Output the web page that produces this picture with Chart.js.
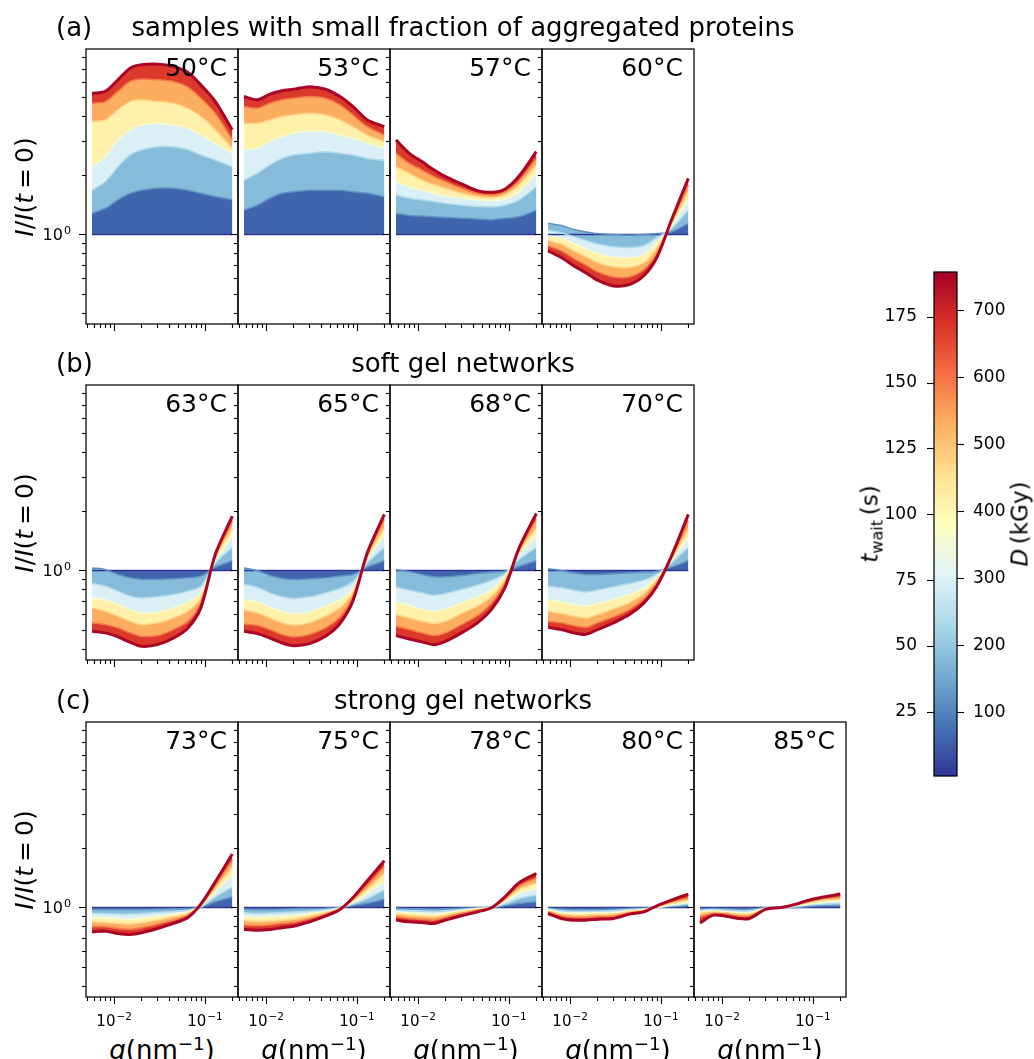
<!DOCTYPE html>
<html>
<head>
<meta charset="utf-8">
<script src="https://cdn.jsdelivr.net/npm/chart.js@4.4.1/dist/chart.umd.min.js"></script>
<style>
  body { margin: 0; background: #fff; font-family: "DejaVu Sans", sans-serif; }
  #fig { position: relative; width: 1034px; height: 1059px; overflow: hidden; background: #fff; }
  #fig canvas { position: absolute; }
  .txt { position: absolute; line-height: 1; white-space: nowrap; color: #000; }
  .txt sup { font-size: 70%; vertical-align: 0.5em; line-height: 0; }
  .txt sub { font-size: 70%; vertical-align: -0.3em; line-height: 0; }
</style>
</head>
<body>
<div id="fig"></div>
<script>
// q grid (nm^-1) and waiting times (s) of the curves
const q = [0.0057, 0.008, 0.011, 0.015, 0.02, 0.03, 0.045, 0.065, 0.09, 0.13, 0.2];
const tWait = [0, 30, 60, 90, 120, 150, 190];
const flat = [1, 1, 1, 1, 1, 1, 1, 1, 1, 1, 1];

// I/I(t=0), one row per waiting time
const s50 = [flat,
  [1.28, 1.36, 1.50, 1.62, 1.68, 1.72, 1.72, 1.68, 1.62, 1.56, 1.50],
  [1.68, 1.86, 2.21, 2.54, 2.70, 2.80, 2.80, 2.70, 2.54, 2.39, 2.21],
  [2.21, 2.49, 3.03, 3.41, 3.61, 3.68, 3.61, 3.47, 3.21, 2.91, 2.59],
  [3.76, 3.83, 4.31, 4.75, 4.85, 4.75, 4.66, 4.39, 3.99, 3.41, 2.75],
  [4.66, 4.75, 5.35, 6.01, 6.18, 6.13, 6.01, 5.62, 4.94, 4.14, 3.03],
  [5.24, 5.35, 6.13, 7.03, 7.31, 7.37, 7.17, 6.68, 5.78, 4.75, 3.41]];
const s53 = [flat,
  [1.33, 1.41, 1.53, 1.62, 1.65, 1.68, 1.68, 1.68, 1.65, 1.62, 1.56],
  [1.89, 2.05, 2.26, 2.44, 2.54, 2.59, 2.64, 2.59, 2.54, 2.44, 2.39],
  [2.70, 2.75, 2.97, 3.15, 3.28, 3.34, 3.34, 3.21, 3.09, 2.91, 2.75],
  [3.68, 3.68, 3.83, 3.99, 4.06, 4.14, 4.06, 3.83, 3.54, 3.21, 2.97],
  [4.49, 4.39, 4.66, 4.85, 4.94, 5.04, 4.94, 4.57, 4.06, 3.54, 3.21],
  [5.04, 4.85, 5.18, 5.39, 5.49, 5.66, 5.49, 5.04, 4.49, 3.83, 3.54]];
const s57 = [flat,
  [1.28, 1.25, 1.24, 1.23, 1.22, 1.21, 1.20, 1.19, 1.21, 1.23, 1.33],
  [1.59, 1.53, 1.50, 1.47, 1.44, 1.41, 1.39, 1.38, 1.41, 1.50, 1.75],
  [1.86, 1.75, 1.68, 1.62, 1.57, 1.53, 1.50, 1.49, 1.51, 1.65, 2.05],
  [2.21, 2.05, 1.89, 1.79, 1.72, 1.62, 1.56, 1.54, 1.59, 1.79, 2.26],
  [2.59, 2.30, 2.13, 1.97, 1.86, 1.72, 1.62, 1.59, 1.65, 1.89, 2.44],
  [3.03, 2.59, 2.35, 2.13, 1.97, 1.81, 1.67, 1.64, 1.70, 1.99, 2.64]];
const s60 = [flat,
  [1.14, 1.11, 1.06, 1.03, 1.01, 1.00, 0.99, 1.00, 1.01, 1.03, 1.14],
  [1.05, 1.02, 0.973, 0.932, 0.893, 0.865, 0.858, 0.879, 0.965, 1.07, 1.33],
  [0.981, 0.958, 0.900, 0.845, 0.800, 0.769, 0.763, 0.790, 0.907, 1.10, 1.50],
  [0.928, 0.893, 0.825, 0.769, 0.719, 0.684, 0.679, 0.717, 0.848, 1.13, 1.65],
  [0.875, 0.825, 0.754, 0.697, 0.645, 0.608, 0.608, 0.663, 0.800, 1.16, 1.79],
  [0.825, 0.763, 0.692, 0.637, 0.585, 0.547, 0.556, 0.618, 0.763, 1.18, 1.93]];
const s63 = [flat,
  [1.03, 1.01, 0.954, 0.917, 0.900, 0.900, 0.907, 0.917, 0.936, 1.04, 1.12],
  [0.858, 0.832, 0.785, 0.740, 0.725, 0.734, 0.754, 0.785, 0.832, 1.09, 1.31],
  [0.725, 0.711, 0.671, 0.632, 0.608, 0.613, 0.645, 0.689, 0.769, 1.12, 1.50],
  [0.645, 0.620, 0.585, 0.551, 0.530, 0.541, 0.573, 0.620, 0.725, 1.16, 1.65],
  [0.541, 0.530, 0.510, 0.481, 0.462, 0.466, 0.500, 0.551, 0.684, 1.18, 1.79],
  [0.490, 0.481, 0.459, 0.431, 0.411, 0.419, 0.453, 0.510, 0.645, 1.21, 1.89]];
const s65 = [flat,
  [1.03, 1.00, 0.943, 0.910, 0.900, 0.907, 0.917, 0.936, 0.954, 1.04, 1.12],
  [0.848, 0.822, 0.769, 0.734, 0.720, 0.734, 0.769, 0.809, 0.875, 1.09, 1.31],
  [0.711, 0.692, 0.652, 0.620, 0.603, 0.615, 0.658, 0.711, 0.806, 1.14, 1.50],
  [0.627, 0.608, 0.573, 0.541, 0.526, 0.541, 0.585, 0.645, 0.769, 1.17, 1.65],
  [0.534, 0.524, 0.500, 0.472, 0.459, 0.472, 0.510, 0.580, 0.734, 1.21, 1.82],
  [0.490, 0.477, 0.453, 0.427, 0.414, 0.424, 0.462, 0.537, 0.697, 1.23, 1.93]];
const s68 = [flat,
  [1.01, 0.984, 0.954, 0.928, 0.928, 0.943, 0.965, 0.981, 0.992, 1.05, 1.12],
  [0.822, 0.794, 0.769, 0.748, 0.763, 0.800, 0.841, 0.893, 0.962, 1.14, 1.31],
  [0.689, 0.663, 0.637, 0.620, 0.637, 0.684, 0.734, 0.800, 0.936, 1.21, 1.50],
  [0.596, 0.573, 0.551, 0.537, 0.551, 0.603, 0.658, 0.740, 0.900, 1.25, 1.65],
  [0.520, 0.500, 0.481, 0.466, 0.481, 0.530, 0.589, 0.684, 0.858, 1.28, 1.82],
  [0.466, 0.448, 0.433, 0.419, 0.436, 0.481, 0.541, 0.637, 0.816, 1.31, 1.95]];
const s70 = [flat,
  [1.02, 1.00, 0.973, 0.954, 0.954, 0.962, 0.973, 0.981, 0.992, 1.04, 1.12],
  [0.832, 0.816, 0.794, 0.778, 0.794, 0.825, 0.858, 0.893, 0.954, 1.09, 1.31],
  [0.711, 0.692, 0.671, 0.658, 0.679, 0.711, 0.754, 0.816, 0.917, 1.12, 1.47],
  [0.620, 0.603, 0.585, 0.573, 0.596, 0.637, 0.684, 0.763, 0.893, 1.14, 1.62],
  [0.551, 0.541, 0.524, 0.514, 0.541, 0.580, 0.632, 0.717, 0.865, 1.16, 1.79],
  [0.514, 0.500, 0.481, 0.473, 0.500, 0.541, 0.596, 0.684, 0.832, 1.18, 1.93]];
const s73 = [flat,
  [0.977, 0.977, 0.977, 0.977, 0.977, 0.981, 0.985, 0.988, 1.00, 1.07, 1.13],
  [0.932, 0.932, 0.925, 0.925, 0.932, 0.943, 0.954, 0.969, 1.01, 1.13, 1.27],
  [0.889, 0.886, 0.875, 0.872, 0.882, 0.903, 0.925, 0.950, 1.02, 1.20, 1.46],
  [0.845, 0.838, 0.829, 0.822, 0.835, 0.862, 0.896, 0.932, 1.02, 1.25, 1.61],
  [0.797, 0.797, 0.781, 0.772, 0.788, 0.822, 0.862, 0.914, 1.03, 1.30, 1.74],
  [0.751, 0.757, 0.737, 0.728, 0.743, 0.781, 0.829, 0.889, 1.04, 1.35, 1.87]];
const s75 = [flat,
  [0.981, 0.977, 0.977, 0.981, 0.985, 0.988, 0.992, 1.00, 1.02, 1.05, 1.10],
  [0.939, 0.932, 0.936, 0.939, 0.947, 0.958, 0.973, 0.996, 1.04, 1.11, 1.23],
  [0.896, 0.889, 0.896, 0.903, 0.910, 0.932, 0.958, 0.992, 1.06, 1.18, 1.35],
  [0.855, 0.848, 0.852, 0.862, 0.872, 0.903, 0.943, 0.988, 1.08, 1.24, 1.49],
  [0.813, 0.806, 0.813, 0.829, 0.838, 0.875, 0.925, 0.984, 1.10, 1.30, 1.61],
  [0.772, 0.766, 0.772, 0.788, 0.803, 0.845, 0.903, 0.977, 1.12, 1.37, 1.73]];
const s78 = [flat,
  [0.988, 0.984, 0.984, 0.981, 0.984, 0.992, 0.996, 1.00, 1.02, 1.05, 1.07],
  [0.969, 0.962, 0.958, 0.954, 0.962, 0.977, 0.992, 1.00, 1.04, 1.11, 1.16],
  [0.950, 0.939, 0.932, 0.925, 0.939, 0.965, 0.985, 1.00, 1.07, 1.18, 1.25],
  [0.925, 0.910, 0.903, 0.896, 0.914, 0.950, 0.977, 1.00, 1.09, 1.24, 1.33],
  [0.896, 0.879, 0.872, 0.862, 0.889, 0.932, 0.969, 1.00, 1.11, 1.29, 1.41],
  [0.862, 0.845, 0.838, 0.829, 0.862, 0.907, 0.950, 1.00, 1.13, 1.34, 1.49]];
const s80 = [flat,
  [0.992, 0.981, 0.977, 0.977, 0.977, 0.981, 0.988, 0.992, 1.00, 1.01, 1.02],
  [0.985, 0.962, 0.954, 0.954, 0.958, 0.962, 0.977, 0.985, 1.00, 1.02, 1.04],
  [0.977, 0.943, 0.936, 0.936, 0.939, 0.943, 0.965, 0.977, 1.00, 1.03, 1.06],
  [0.962, 0.925, 0.914, 0.914, 0.921, 0.925, 0.954, 0.969, 1.01, 1.05, 1.09],
  [0.950, 0.903, 0.889, 0.889, 0.896, 0.903, 0.939, 0.962, 1.01, 1.07, 1.12],
  [0.932, 0.879, 0.862, 0.862, 0.872, 0.879, 0.925, 0.950, 1.02, 1.09, 1.17]];
const s85 = [flat,
  [0.985, 0.988, 0.985, 0.981, 0.981, 0.996, 1.00, 1.00, 1.01, 1.02, 1.02],
  [0.969, 0.977, 0.969, 0.962, 0.962, 0.992, 1.00, 1.01, 1.03, 1.04, 1.05],
  [0.950, 0.962, 0.954, 0.943, 0.943, 0.988, 1.00, 1.02, 1.04, 1.06, 1.08],
  [0.932, 0.947, 0.939, 0.925, 0.925, 0.984, 1.00, 1.03, 1.06, 1.09, 1.10],
  [0.896, 0.932, 0.925, 0.903, 0.903, 0.981, 1.00, 1.03, 1.07, 1.11, 1.13],
  [0.835, 0.914, 0.903, 0.879, 0.879, 0.977, 1.00, 1.04, 1.09, 1.13, 1.17]];

const temps = ['50°C', '53°C', '57°C', '60°C', '63°C', '65°C', '68°C', '70°C',
               '73°C', '75°C', '78°C', '80°C', '85°C'];
const series = [s50, s53, s57, s60, s63, s65, s68, s70, s73, s75, s78, s80, s85];
const rowTitles = ['samples with small fraction of aggregated proteins', 'soft gel networks', 'strong gel networks'];

// axis ranges and ticks
const xMin = 0.0049, xMax = 0.231;
const yMin = 0.35, yMax = 8.8;
const xMajor = [0.01, 0.1];
const xTickExp = ['−2', '−1'];
const xMinor = [0.005, 0.006, 0.007, 0.008, 0.009, 0.02, 0.03, 0.04, 0.05, 0.06, 0.07, 0.08, 0.09, 0.2];
const yMajor = [1];
const yTickExp = ['0'];
const yMinor = [0.4, 0.5, 0.6, 0.7, 0.8, 0.9, 2, 3, 4, 5, 6, 7, 8];

// colourbar
const tLo = 0.6, tHi = 192;
const dLo = 5, dHi = 757;
const tTicks = [25, 50, 75, 100, 125, 150, 175];
const dTicks = [100, 200, 300, 400, 500, 600, 700];

// RdYlBu reversed
const rdylbu = ['#313695', '#4575b4', '#74add1', '#abd9e9', '#e0f3f8', '#ffffbf',
                '#fee090', '#fdae61', '#f46d43', '#d73027', '#a50026'];
function hex(c) { return [1, 3, 5].map(i => parseInt(c.substr(i, 2), 16)); }
function cmap(f) {
  f = Math.max(0, Math.min(1, f));
  const p = f * 10, i = Math.min(9, Math.floor(p)), u = p - i;
  const a = hex(rdylbu[i]), b = hex(rdylbu[i + 1]);
  return 'rgb(' + a.map((v, j) => Math.round(v + (b[j] - v) * u)).join(',') + ')';
}
const frac = t => (t - tLo) / (tHi - tLo);

Chart.defaults.font.family = '"DejaVu Sans", sans-serif';
Chart.defaults.color = '#000';

const fig = document.getElementById('fig');
const PW = 152, PH = 275;
const colX = [86, 238, 390, 542, 694];
const rowY = [49, 385, 722];
const place = [[0,0],[0,1],[0,2],[0,3],[1,0],[1,1],[1,2],[1,3],[2,0],[2,1],[2,2],[2,3],[2,4]];

function addCanvas(left, top, w, h) {
  const c = document.createElement('canvas');
  c.width = w; c.height = h;
  c.style.left = left + 'px'; c.style.top = top + 'px';
  c.style.width = w + 'px'; c.style.height = h + 'px';
  fig.appendChild(c);
  return c;
}
function addText(html, x, y, size, tf) {
  const d = document.createElement('div');
  d.className = 'txt';
  d.innerHTML = html;
  d.style.left = x + 'px'; d.style.top = y + 'px';
  d.style.fontSize = size + 'px';
  d.style.transform = tf;
  fig.appendChild(d);
}
function noPad(s) { s.paddingTop = 0; s.paddingBottom = 0; s.paddingLeft = 0; s.paddingRight = 0; }

// "10" with a raised exponent, like matplotlib's log tick labels
function powLabel(ctx, exp, x, y, size, align) {
  const big = size + 'px "DejaVu Sans"', small = (size * 0.7) + 'px "DejaVu Sans"';
  ctx.font = big; const wb = ctx.measureText('10').width;
  ctx.font = small; const we = ctx.measureText(exp).width;
  const x0 = align === 'center' ? x - (wb + we + 1) / 2 : x - (wb + we + 1);
  ctx.textAlign = 'left'; ctx.textBaseline = 'alphabetic';
  ctx.font = big; ctx.fillText('10', x0, y);
  ctx.font = small; ctx.fillText(exp, x0 + wb + 1, y - size * 0.42);
}

// box, outward tick marks and log tick labels
const frame = {
  id: 'frame',
  afterDraw(chart) {
    const { ctx, chartArea: a, scales } = chart;
    const o = chart.config.options.plugins.frame;
    ctx.save();
    ctx.strokeStyle = '#000';
    ctx.fillStyle = '#000';
    ctx.lineWidth = 1.1;
    const tick = (x1, y1, x2, y2) => { ctx.beginPath(); ctx.moveTo(x1, y1); ctx.lineTo(x2, y2); ctx.stroke(); };
    const px = (s, v) => Math.round(s.getPixelForValue(v)) + 0.5;
    if (o.kind === 'panel') {
      xMinor.forEach(v => { const p = px(scales.x, v); tick(p, a.bottom, p, a.bottom + 4); });
      xMajor.forEach(v => { const p = px(scales.x, v); tick(p, a.bottom, p, a.bottom + 7); });
      yMinor.forEach(v => { const p = px(scales.y, v); tick(a.left, p, a.left - 4, p); });
      yMajor.forEach(v => { const p = px(scales.y, v); tick(a.left, p, a.left - 7, p); });
      if (o.xLabels) xMajor.forEach((v, i) => powLabel(ctx, xTickExp[i], scales.x.getPixelForValue(v), a.bottom + 29, 15, 'center'));
      if (o.yLabels) yMajor.forEach((v, i) => powLabel(ctx, yTickExp[i], a.left - 15, scales.y.getPixelForValue(v) + 6, 16, 'right'));
    } else {
      tTicks.forEach(v => { const p = px(scales.y, v); tick(a.left, p, a.left - 7, p); });
      dTicks.forEach(v => { const p = px(scales.y2, v); tick(a.right, p, a.right + 7, p); });
    }
    ctx.lineWidth = 1.25;
    ctx.strokeRect(a.left, a.top, a.right - a.left, a.bottom - a.top);
    ctx.restore();
  }
};

series.forEach((curves, n) => {
  const [row, col] = place[n];
  const cv = addCanvas(colX[col] - 60, rowY[row] - 10, PW + 70, PH + 45);
  const datasets = curves.map((ys, k) => ({
    data: q.map((x, i) => ({ x: x, y: ys[i] })),
    borderColor: cmap(frac(tWait[k])),
    borderWidth: k === curves.length - 1 ? 3 : 1.5,
    backgroundColor: k === 0 ? 'transparent' : cmap(frac((tWait[k - 1] + tWait[k]) / 2)),
    fill: k === 0 ? false : '-1',
    pointRadius: 0,
    tension: 0.3,
    order: curves.length - k
  }));
  new Chart(cv, {
    type: 'line',
    data: { datasets: datasets },
    plugins: [frame],
    options: {
      responsive: false,
      animation: false,
      devicePixelRatio: 1,
      layout: { padding: { top: 10, right: 10, left: 0, bottom: 0 } },
      plugins: {
        legend: { display: false },
        tooltip: { enabled: false },
        filler: { drawTime: 'beforeDatasetsDraw' },
        frame: { kind: 'panel', xLabels: row === 2, yLabels: col === 0 }
      },
      scales: {
        x: {
          type: 'logarithmic', min: xMin, max: xMax, bounds: 'data',
          afterBuildTicks: s => { s.ticks = xMajor.map(v => ({ value: v })); },
          afterFit: s => { s.height = 35; noPad(s); },
          ticks: { display: false },
          grid: { display: false },
          border: { display: false }
        },
        y: {
          type: 'logarithmic', min: yMin, max: yMax, bounds: 'data',
          afterBuildTicks: s => { s.ticks = yMajor.map(v => ({ value: v })); },
          afterFit: s => { s.width = 60; noPad(s); },
          ticks: { display: false },
          grid: { display: false },
          border: { display: false }
        }
      }
    }
  });
  addText(temps[n], colX[col] + PW - 11, rowY[row] + 18, 25, 'translate(-100%,-50%)');
});

// colourbar
const cbX = 934, cbY = 272, cbW = 23, cbH = 504;
const cb = addCanvas(cbX - 70, cbY - 10, cbW + 140, cbH + 20);
new Chart(cb, {
  type: 'bar',
  data: {
    labels: [''],
    datasets: [{
      data: [[tLo, tHi]],
      borderWidth: 0,
      barPercentage: 1,
      categoryPercentage: 1,
      backgroundColor: c => {
        const a = c.chart.chartArea;
        if (!a) return null;
        const g = c.chart.ctx.createLinearGradient(0, a.bottom, 0, a.top);
        rdylbu.forEach((col, i) => g.addColorStop(i / (rdylbu.length - 1), col));
        return g;
      }
    }]
  },
  plugins: [frame],
  options: {
    responsive: false,
    animation: false,
    devicePixelRatio: 1,
    layout: { padding: { top: 10, bottom: 10, left: 0, right: 0 } },
    plugins: { legend: { display: false }, tooltip: { enabled: false }, frame: { kind: 'bar' } },
    scales: {
      x: { display: false },
      y: {
        position: 'left', min: tLo, max: tHi,
        afterBuildTicks: s => { s.ticks = tTicks.map(v => ({ value: v })); },
        afterFit: s => { s.width = 70; noPad(s); },
        ticks: { padding: 17, font: { size: 17 }, color: '#000' },
        grid: { display: true, drawOnChartArea: false, drawTicks: false },
        border: { display: false }
      },
      y2: {
        position: 'right', min: dLo, max: dHi,
        afterBuildTicks: s => { s.ticks = dTicks.map(v => ({ value: v })); },
        afterFit: s => { s.width = 70; noPad(s); },
        ticks: { padding: 16, font: { size: 17 }, color: '#000' },
        grid: { display: true, drawOnChartArea: false, drawTicks: false },
        border: { display: false }
      }
    }
  }
});

// texts
['(a)', '(b)', '(c)'].forEach((lab, r) => {
  addText(lab, 56, rowY[r] - 22, 26, 'translate(0,-50%)');
  addText(rowTitles[r], 463, rowY[r] - 22, 26, 'translate(-50%,-50%)');
  addText('<i>I</i>/<i>I</i>(<i>t</i>&#8201;=&#8201;0)', 24, rowY[r] + PH / 2, 25, 'translate(-50%,-50%) rotate(-90deg)');
});
colX.forEach(x => {
  addText('<i>q</i>(nm<sup>−1</sup>)', x + PW / 2, 1050, 26, 'translate(-50%,-50%)');
});
addText('<i>t</i><sub>wait</sub>&#8201;(s)', 870, cbY + cbH / 2, 23, 'translate(-50%,-50%) rotate(-90deg)');
addText('<i>D</i>&#8201;(kGy)', 1020, cbY + cbH / 2, 23, 'translate(-50%,-50%) rotate(-90deg)');
</script>
</body>
</html>
